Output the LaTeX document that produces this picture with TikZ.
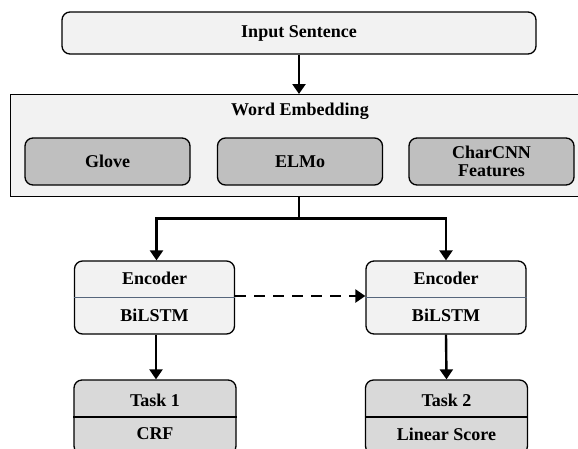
\documentclass[tikz,border=0pt]{standalone}
\usepackage{fontspec}
\setmainfont{Liberation Serif}
\usetikzlibrary{arrows.meta,calc}
\definecolor{lightfill}{HTML}{F2F2F2}
\definecolor{embfill}{HTML}{BFBFBF}
\definecolor{taskfill}{HTML}{D9D9D9}
\definecolor{divblue}{HTML}{56667C}
\begin{document}
\begin{tikzpicture}[x=1pt,y=-1pt,
  lbl/.style={font=\fontsize{18}{19}\selectfont\bfseries, inner sep=0pt, align=center},
  rbox/.style={draw=black, line width=1.3pt, rounded corners=8pt, inner sep=0pt},
  lightbox/.style={rbox, fill=lightfill},
  embbox/.style={rbox, fill=embfill, minimum width=165pt, minimum height=47pt, font=\fontsize{18}{19}\selectfont\bfseries, align=center},
  taskbox/.style={rbox, fill=taskfill, minimum width=162pt, minimum height=74pt},
  encbox/.style={rbox, fill=lightfill, minimum width=160pt, minimum height=73pt},
  arr/.style={line width=2.4pt, -{Triangle[length=10pt,width=13pt]}},
  plain/.style={line width=2.4pt}
]
\useasboundingbox (0,0) rectangle (578,448);
\clip (0,0) rectangle (578,448);

% Input sentence
\node[lightbox, minimum width=474pt, minimum height=42pt, font=\fontsize{18}{19}\selectfont\bfseries] (input) at (299,33) {Input Sentence};

% Word embedding frame
\node[draw=black, line width=1.3pt, fill=lightfill, minimum width=580pt, minimum height=102pt, anchor=north west, inner sep=0pt] (we) at (10,94) {};
\node[lbl] (wetitle) at (300,111) {Word Embedding};
\node[embbox] (glove) at (107.5,161.5) {Glove};
\node[embbox] (elmo) at (300,161.5) {ELMo};
\node[embbox] (char) at (491.5,161.5) {CharCNN\\[-1pt]Features};

% Encoders
\node[encbox] (enc1) at (154.5,297.5) {};
\node[encbox] (enc2) at (446,297.5) {};
\draw[divblue, line width=1.1pt] (enc1.west) -- (enc1.east);
\draw[divblue, line width=1.1pt] (enc2.west) -- (enc2.east);
\node[lbl] (enc1a) at ($(enc1.center)+(0,-19.5)$) {Encoder};
\node[lbl] (enc1b) at ($(enc1.center)+(0,17.5)$) {BiLSTM};
\node[lbl] (enc2a) at ($(enc2.center)+(0,-19.5)$) {Encoder};
\node[lbl] (enc2b) at ($(enc2.center)+(0,17.5)$) {BiLSTM};

% Tasks
\node[taskbox] (task1) at (155,417) {};
\node[taskbox] (task2) at (446.5,417) {};
\draw[black, line width=1.1pt] (task1.west) -- (task1.east);
\draw[black, line width=1.1pt] (task2.west) -- (task2.east);
\node[lbl] (t1a) at ($(task1.center)+(0,-17)$) {Task 1};
\node[lbl] (t1b) at ($(task1.center)+(0,17)$) {CRF};
\node[lbl] (t2a) at ($(task2.center)+(0,-17)$) {Task 2};
\node[lbl] (t2b) at ($(task2.center)+(0,17)$) {Linear Score};

% Connectors
\draw[arr] (input.south) -- (input.south |- we.north);
\coordinate (split) at ($(input.south |- we.south)+(0,21)$);
\draw[plain] (input.south |- we.south) -- (split);
\draw[arr] (split) -| ($(enc1.north)+(2,0)$);
\draw[arr] (split) -| (enc2.north);
\draw[line width=2.4pt, dash pattern=on 11pt off 8pt, -{Triangle[length=10pt,width=13pt]}] ($(enc1.east)+(0,-1.5)$) -- ($(enc2.west)+(0,-1.5)$);
\draw[arr] ($(enc1.south)+(1.5,0)$) -- ($(task1.north)+(1,0)$);
\draw[arr] (enc2.south) -- (task2.north);
\end{tikzpicture}
\end{document}
